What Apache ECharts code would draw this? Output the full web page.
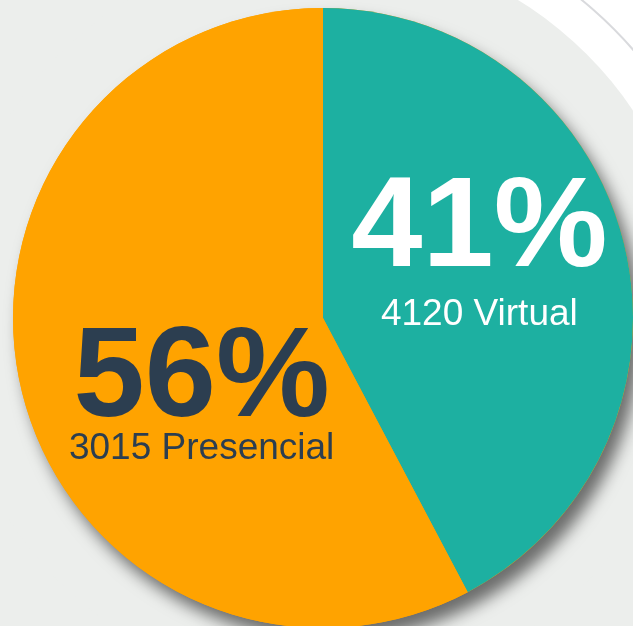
<!DOCTYPE html>
<html>
<head>
<meta charset="utf-8">
<title>Virtual / Presencial</title>
<script src="https://cdn.jsdelivr.net/npm/echarts@6/dist/echarts.min.js"></script>
<style>
	html, body { margin: 0; padding: 0; background: #eceeec; }
	#chart { width: 633px; height: 626px; }
</style>
</head>
<body>
<div id="chart"></div>
<script>
// data
var categories = ["Virtual", "Presencial"];
var percents = [41, 56];
var counts = [4120, 3015];
var sliceColors = ["#1db0a1", "#ffa300"];
var labelColors = ["#ffffff", "#2c3e50"];

var voChart = echarts.init(document.getElementById("chart"));

var CX = 323, CY = 318, R = 310;

// label nudges (dx, dy) so text sits where the original puts it
var labelShift = [[3, -25], [32, 49]];
// spacing between the big percent and the caption
var bigLineH = [120, 88];

var pieData = categories.map(function(name, i) {
	return {
		name: name,
		value: percents[i],
		itemStyle: { color: sliceColors[i] },
		label: {
			rich: {
				big: { fontSize: 128, fontWeight: "bold", color: labelColors[i], lineHeight: bigLineH[i], fontFamily: "Liberation Sans" },
				small: { fontSize: 37, color: labelColors[i], lineHeight: 48, fontFamily: "Liberation Sans" }
			}
		}
	};
});

var voOption = {
	backgroundColor: "#eceeec",
	animation: false,
	graphic: [
		{ type: "rect", z: 0, shape: { x: 430, y: 0, width: 203, height: 200 }, style: { fill: "#ffffff" } },
		{ type: "circle", z: 1, shape: { cx: CX, cy: CY, r: 373 }, style: { fill: "#eceeec" } },
		{ type: "arc", z: 1, shape: { cx: CX, cy: CY, r: 410, startAngle: -1.2, endAngle: -0.5 },
			style: { stroke: "#d9dadd", lineWidth: 2, fill: null } }
	],
	series: [
		{
			// shadow layer under the pie
			type: "pie",
			silent: true,
			z: 2,
			center: [CX, CY],
			radius: R,
			label: { show: false },
			labelLine: { show: false },
			itemStyle: {
				color: "#ffa300",
				shadowColor: "rgba(0,0,0,0.55)",
				shadowBlur: 16,
				shadowOffsetX: 8,
				shadowOffsetY: 12
			},
			data: [{ value: 1 }]
		},
		{
			type: "pie",
			z: 3,
			center: [CX, CY],
			radius: R,
			startAngle: 90,
			clockwise: true,
			labelLine: { show: false },
			emphasis: { disabled: true },
			label: {
				show: true,
				position: "inside",
				align: "center",
				formatter: function(p) {
					return "{big|" + percents[p.dataIndex] + "%}\n{small|" + counts[p.dataIndex] + " " + p.name + "}";
				}
			},
			labelLayout: function(params) {
				var s = labelShift[params.dataIndex];
				return { dx: s[0], dy: s[1] };
			},
			data: pieData
		}
	]
};

voChart.setOption(voOption);
</script>
</body>
</html>
